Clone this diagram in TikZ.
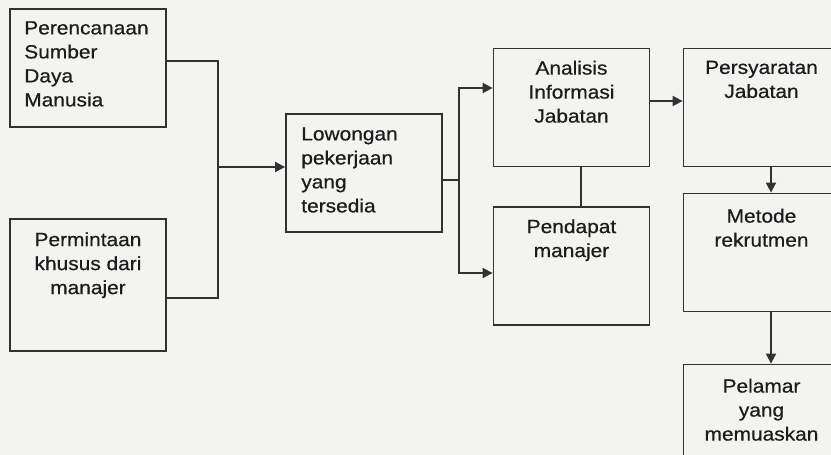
\documentclass[tikz,border=0pt]{standalone}
\usepackage{fontspec}
\setmainfont{Liberation Sans}[FakeStretch=1.1, FakeBold=0.6]
\usepackage{xcolor}
\usetikzlibrary{arrows.meta}
\definecolor{bgcol}{RGB}{243,243,241}
\definecolor{linecol}{RGB}{50,50,50}
\definecolor{textcol}{RGB}{28,28,28}

\begin{document}
\begin{tikzpicture}[
  x=1pt, y=-1pt,
  box/.style={
    draw=linecol, line width=1.8pt, inner sep=0pt,
    minimum width=156pt, minimum height=#1
  },
  box/.default=118pt,
  boxtext/.style={
    font=\fontsize{19}{24}\selectfont, text=textcol,
    inner sep=0pt, align=#1
  },
  link/.style={draw=linecol, line width=1.8pt},
  flow/.style={link, -{Triangle[length=10pt,width=10pt]}}
]

% page
\fill[bgcol] (0,0) rectangle (831,455);
\useasboundingbox (0,0) rectangle (831,455);
\clip (0,0) rectangle (831,455);

% input boxes
\node[box] (perencanaan) at (88,68) {};
\node[boxtext=left, anchor=north west] at ([xshift=15pt, yshift=-13pt]perencanaan.north west) {Perencanaan\\Sumber\\Daya\\Manusia};
\node[box=132pt] (permintaan) at (88,285) {};
\node[boxtext=center, anchor=north] at ([yshift=-14pt]permintaan.north) {Permintaan\\khusus dari\\manajer};

% vacancy
\node[box] (lowongan) at (364,173) {};
\node[boxtext=left, anchor=north west] at ([xshift=16pt, yshift=-14pt]lowongan.north west) {Lowongan\\pekerjaan\\yang\\tersedia};

% analysis
\node[box] (analisis) at (571.5,107.5) {};
\node[boxtext=center, anchor=north] at ([yshift=-13pt]analisis.north) {Analisis\\Informasi\\Jabatan};
\node[box] (pendapat) at (571.5,266) {};
\node[boxtext=center, anchor=north] at ([yshift=-13pt]pendapat.north) {Pendapat\\manajer};

% requirements and outcome
\node[box] (persyaratan) at (761.5,107.5) {};
\node[boxtext=center, anchor=north] at ([yshift=-13pt]persyaratan.north) {Persyaratan\\Jabatan};
\node[box] (metode) at (761.5,252.5) {};
\node[boxtext=center, anchor=north] at ([yshift=-16pt]metode.north) {Metode\\rekrutmen};
\node[box] (pelamar) at (761.5,423.5) {};
\node[boxtext=center, anchor=north] at ([yshift=-15pt]pelamar.north) {Pelamar\\yang\\memuaskan};

% connectors
\coordinate (join) at (218,167);
\coordinate (split) at (459,180);
\draw[link] ([yshift=7pt]perencanaan.east) -| (join);
\draw[link] ([yshift=-13pt]permintaan.east) -| (join);
\draw[flow] (join) -- (lowongan.west |- join);
\draw[link] (lowongan.east |- split) -- (split);
\draw[flow] (split) |- ([yshift=19.5pt]analisis.west);
\draw[flow] (split) |- ([yshift=-7pt]pendapat.west);
\draw[link] ([xshift=9.5pt]analisis.south) -- ([xshift=9.5pt]pendapat.north);
\draw[flow] ([yshift=6.5pt]analisis.east) -- ([yshift=6.5pt]persyaratan.west);
\draw[flow] ([xshift=9.5pt]persyaratan.south) -- ([xshift=9.5pt]metode.north);
\draw[flow] ([xshift=9.5pt]metode.south) -- ([xshift=9.5pt]pelamar.north);

\end{tikzpicture}
\end{document}
